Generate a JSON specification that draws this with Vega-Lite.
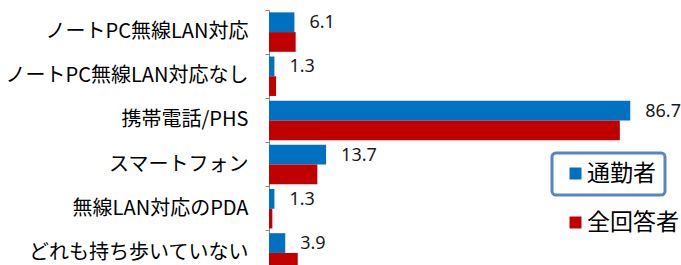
{
  "$schema": "https://vega.github.io/schema/vega-lite/v6.json",
  "autosize": {"type": "none"},
  "padding": {"left": 269, "top": 10, "right": 37, "bottom": 0},
  "width": 375,
  "height": 265,
  "background": "white",
  "config": {
    "view": {"stroke": null},
    "font": "Noto Sans CJK JP"
  },
  "data": {
    "values": [
      {"item": "ノートPC無線LAN対応", "series": "通勤者", "value": 6.1},
      {"item": "ノートPC無線LAN対応", "series": "全回答者", "value": 6.4},
      {"item": "ノートPC無線LAN対応なし", "series": "通勤者", "value": 1.3},
      {"item": "ノートPC無線LAN対応なし", "series": "全回答者", "value": 1.7},
      {"item": "携帯電話/PHS", "series": "通勤者", "value": 86.7},
      {"item": "携帯電話/PHS", "series": "全回答者", "value": 84.2},
      {"item": "スマートフォン", "series": "通勤者", "value": 13.7},
      {"item": "スマートフォン", "series": "全回答者", "value": 11.6},
      {"item": "無線LAN対応のPDA", "series": "通勤者", "value": 1.3},
      {"item": "無線LAN対応のPDA", "series": "全回答者", "value": 0.8},
      {"item": "どれも持ち歩いていない", "series": "通勤者", "value": 3.9},
      {"item": "どれも持ち歩いていない", "series": "全回答者", "value": 6.9}
    ]
  },
  "encoding": {
    "y": {
      "field": "item",
      "type": "nominal",
      "sort": null,
      "scale": {"paddingInner": 0, "paddingOuter": 0},
      "axis": {
        "title": null,
        "bandPosition": 0,
        "domainColor": "#868686",
        "domainWidth": 1,
        "tickColor": "#868686",
        "tickSize": 4,
        "labelPadding": 17,
        "labelFontSize": 20,
        "labelColor": "#000000",
        "labelFont": "Noto Sans CJK JP",
        "labelLimit": 300,
        "grid": false
      }
    },
    "yOffset": {
      "field": "series",
      "type": "nominal",
      "scale": {"domain": ["通勤者", "全回答者"], "paddingInner": 0, "paddingOuter": 0.12}
    },
    "x": {
      "field": "value",
      "type": "quantitative",
      "scale": {"domain": [0, 90], "nice": false},
      "axis": null
    }
  },
  "layer": [
    {
      "transform": [{"filter": "datum.series === '通勤者'"}],
      "mark": {"type": "bar"},
      "encoding": {
        "color": {
          "field": "series",
          "type": "nominal",
          "scale": {"domain": ["通勤者"], "range": ["#0070C0"]},
          "legend": {
            "title": null,
            "orient": "none",
            "legendX": 283,
            "legendY": 143,
            "padding": 9,
            "symbolOffset": 3,
            "strokeColor": "#5585C5",
            "cornerRadius": 4,
            "symbolType": "square",
            "symbolSize": 144,
            "symbolStrokeWidth": 0,
            "labelFontSize": 23,
            "labelFont": "Noto Sans CJK JP",
            "labelColor": "#000000",
            "labelOffset": 0,
            "labelExpr": "datum.label + '　'",
            "encode": {"legend": {"update": {"strokeWidth": {"value": 3}}}}
          }
        }
      }
    },
    {
      "transform": [{"filter": "datum.series === '全回答者'"}],
      "mark": {"type": "bar"},
      "encoding": {
        "color": {
          "field": "series",
          "type": "nominal",
          "scale": {"domain": ["全回答者"], "range": ["#C00000"]},
          "legend": {
            "title": null,
            "orient": "none",
            "legendX": 283,
            "legendY": 192,
            "padding": 9,
            "symbolOffset": 3,
            "symbolType": "square",
            "symbolSize": 144,
            "symbolStrokeWidth": 0,
            "labelFontSize": 23,
            "labelFont": "Noto Sans CJK JP",
            "labelColor": "#000000",
            "labelOffset": 0
          }
        }
      }
    },
    {
      "transform": [{"filter": "datum.series === '通勤者'"}],
      "mark": {"type": "text", "align": "left", "baseline": "middle", "dx": 15, "dy": 1, "fontSize": 18, "font": "Noto Sans", "color": "#1a1a1a"},
      "encoding": {
        "text": {"field": "value", "type": "quantitative", "format": ".1f"}
      }
    }
  ],
  "resolve": {"scale": {"color": "independent"}}
}
